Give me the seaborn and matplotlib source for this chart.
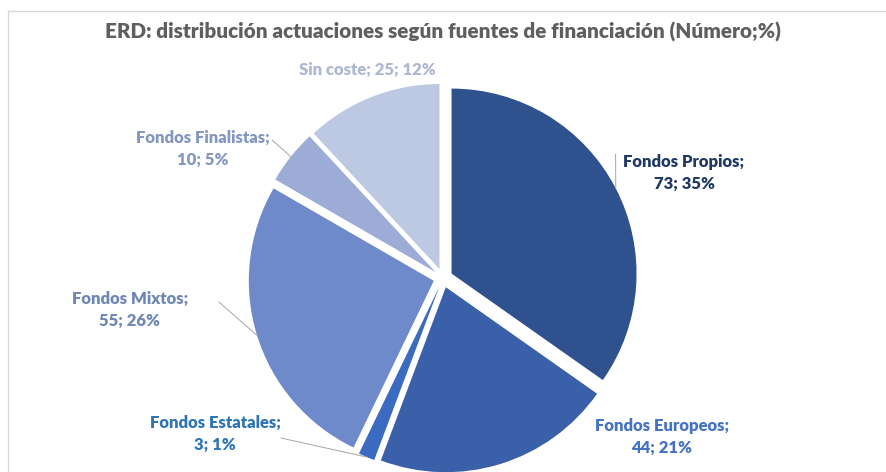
import numpy as np
import matplotlib
matplotlib.use("Agg")
import matplotlib.pyplot as plt
from matplotlib.lines import Line2D
import seaborn as sns

# Datos
categorias = ["Fondos Propios", "Fondos Europeos", "Fondos Estatales",
              "Fondos Mixtos", "Fondos Finalistas", "Sin coste"]
numero = [73, 44, 3, 55, 10, 25]
porcentaje = [35, 21, 1, 26, 5, 12]

colores = ["#2F528F", "#3A60A9", "#3B6AC1", "#6F8ACB", "#9DACD7", "#BDC8E3"]
colores_texto = ["#1F3864", "#4472C4", "#2E75B6", "#6F86B6", "#8497C0", "#ADB9D2"]

titulo = "ERD: distribución actuaciones según fuentes de financiación (Número;%)"

sns.set_style("white")
plt.rcParams["font.family"] = ["Lato", "DejaVu Sans"]

fig = plt.figure(figsize=(8.86, 4.72), dpi=100)
ax = fig.add_axes([0.239, -0.079, 0.522, 0.98])

explode = [0.052] * len(numero)
wedges, _ = ax.pie(numero, colors=colores, startangle=90, counterclock=False,
                   explode=explode, wedgeprops=dict(linewidth=0))
ax.set_xlim(-1.25, 1.25)
ax.set_ylim(-1.25, 1.25)
ax.set_aspect("equal")
ax.axis("off")

# posiciones de etiquetas (datos del eje)
pos_etiquetas = [(1.303, 0.568), (1.184, -0.859), (-1.232, -0.843),
                 (-1.692, -0.173), (-1.297, 0.697), (-0.41, 1.124)]
inicio_lineas = {0: (0.933, 0.67), 2: (-0.876, -0.865),
                 3: (-1.211, -0.13), 4: (-0.924, 0.746)}

for i, w in enumerate(wedges):
    if categorias[i] == "Sin coste":
        txt = f"{categorias[i]}; {numero[i]}; {porcentaje[i]}%"
    else:
        txt = f"{categorias[i]};\n{numero[i]}; {porcentaje[i]}%"
    ax.text(*pos_etiquetas[i], txt, ha="center", va="center", color=colores_texto[i],
            fontsize=12, fontweight="heavy", linespacing=1.45)
    if i in inicio_lineas:
        ang = np.deg2rad((w.theta1 + w.theta2) / 2)
        r = 1 + explode[i]
        xy = (r * np.cos(ang), r * np.sin(ang))
        ax.annotate("", xy=xy, xytext=inicio_lineas[i],
                    arrowprops=dict(arrowstyle="-", color="#A6A6A6", lw=0.7,
                                    shrinkA=0, shrinkB=0))

fig.text(0.5, 0.932, titulo, ha="center", va="center", color="#5F5F5F",
         fontsize=14.9, fontweight="heavy")

# marco
fig.add_artist(Line2D([8 / 886, 1], [1 - 11 / 472] * 2, color="#D9D9D9", lw=1))
fig.add_artist(Line2D([8 / 886] * 2, [0, 1 - 11 / 472], color="#D9D9D9", lw=1))

fig.savefig("out.png", dpi=100)
